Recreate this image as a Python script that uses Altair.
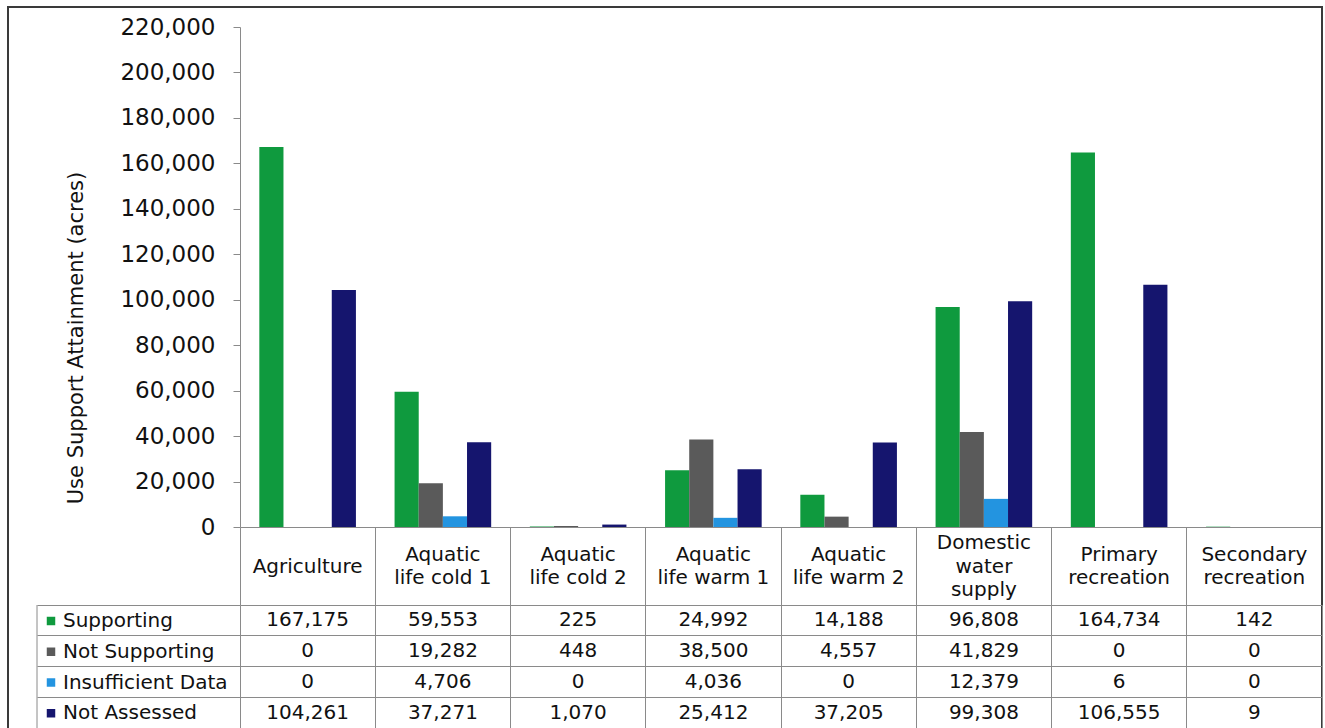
import altair as alt
import pandas as pd

# Designated uses (header text, line breaks as printed) and attainment classes
categories = [
    "Agriculture",
    "Aquatic\nlife cold 1",
    "Aquatic\nlife cold 2",
    "Aquatic\nlife warm 1",
    "Aquatic\nlife warm 2",
    "Domestic\nwater\nsupply",
    "Primary\nrecreation",
    "Secondary\nrecreation",
]
series = ["Supporting", "Not Supporting", "Insufficient Data", "Not Assessed"]

# Acres per designated use
supporting = [167175, 59553, 225, 24992, 14188, 96808, 164734, 142]
not_supporting = [0, 19282, 448, 38500, 4557, 41829, 0, 0]
insufficient_data = [0, 4706, 0, 4036, 0, 12379, 6, 0]
not_assessed = [104261, 37271, 1070, 25412, 37205, 99308, 106555, 9]

y_ticks = list(range(0, 220001, 20000))
colors = ["#0f9a3e", "#5a5a5a", "#2394e0", "#15156e"]

records = []
for status, values in zip(series, [supporting, not_supporting, insufficient_data, not_assessed]):
    for use, acres in zip(categories, values):
        records.append({"use": use, "status": status, "acres": acres})
df = pd.DataFrame(records)

W = 1082          # plot width (8 table columns)
H = 500           # bar plot height
HEADER = 78       # header row under the bars
TABLE_H = 123     # four data rows
LEGEND_COL = 203  # width of the row-label column
LINE_H = 23.5     # header line height
LINE = "#8a8a8a"
INK = "#111111"
FONT = "DejaVu Sans"

# Header labels are vertically centred in the header row whatever their line count
n_lines = "length(split(datum.value, '\\n'))"
header_padding = {
    "condition": [
        {"test": f"{n_lines} == 2", "value": HEADER / 2 - LINE_H / 2 - HEADER},
        {"test": f"{n_lines} == 3", "value": HEADER / 2 - LINE_H - HEADER},
    ],
    "value": HEADER / 2 - HEADER,
}

use_scale = alt.Scale(type="band", domain=categories, paddingInner=0, paddingOuter=0)

bars = alt.Chart(df).mark_bar().encode(
    x=alt.X(
        "use:N",
        sort=categories,
        scale=use_scale,
        axis=alt.Axis(
            title=None,
            labelAngle=0,
            labelExpr="split(datum.label, '\\n')",
            labelFontSize=20,
            labelColor=INK,
            labelLineHeight=LINE_H,
            labelBaseline="middle",
            labelPadding=header_padding,
            labelLimit=0,
            tickSize=HEADER,
            tickColor=LINE,
            bandPosition=1,
            tickExtra=True,
            domainColor=LINE,
        ),
    ),
    xOffset=alt.XOffset(
        "status:N",
        sort=series,
        scale=alt.Scale(domain=series, paddingInner=0, paddingOuter=0.8),
    ),
    y=alt.Y(
        "acres:Q",
        scale=alt.Scale(domain=[0, 220000], nice=False),
        axis=alt.Axis(
            title="Use Support Attainment (acres)",
            values=y_ticks,
            format=",d",
            grid=False,
            labelFontSize=23,
            labelColor=INK,
            labelPadding=18,
            tickSize=7,
            tickColor=LINE,
            domainColor=LINE,
            titleFontSize=21,
            titleFontWeight="normal",
            titleColor=INK,
            titleAngle=270,
            titleX=-164,
            titleY=310.5,
            titleAlign="center",
            titleBaseline="middle",
        ),
    ),
    color=alt.Color(
        "status:N",
        sort=series,
        scale=alt.Scale(domain=series, range=colors),
        legend=alt.Legend(
            title=None,
            orient="none",
            legendX=-199,
            legendY=584,
            padding=0,
            symbolType="square",
            symbolSize=72,
            symbolStrokeWidth=0,
            symbolOpacity=1,
            labelFontSize=20,
            labelColor=INK,
            labelOffset=2,
            labelLimit=0,
            rowPadding=10.75,
        ),
    ),
)

# Outer frame around the whole figure
frame = alt.Chart(alt.Data(values=[{}])).mark_rect(
    fill="transparent", stroke="#3a3a3a", strokeWidth=2
).encode(
    x=alt.value(-232),
    x2=alt.value(W),
    y=alt.value(-20),
    y2=alt.value(H + HEADER + TABLE_H + 20),
)

top = alt.layer(bars, frame).properties(width=W, height=H)

# Data table under the bars
cells = alt.Chart(df).mark_text(fontSize=20, color=INK, baseline="middle").encode(
    x=alt.X(
        "use:N",
        sort=categories,
        scale=use_scale,
        axis=alt.Axis(
            title=None,
            labels=False,
            ticks=False,
            domain=False,
            grid=True,
            gridColor=LINE,
            bandPosition=1,
            tickExtra=True,
        ),
    ),
    y=alt.Y(
        "status:N",
        sort=series,
        scale=alt.Scale(type="band", domain=series, paddingInner=0, paddingOuter=0),
        axis=alt.Axis(
            title=None,
            labels=False,
            domain=False,
            grid=True,
            gridColor=LINE,
            ticks=True,
            tickSize=LEGEND_COL,
            tickColor=LINE,
            bandPosition=1,
            tickExtra=True,
        ),
    ),
    text=alt.Text("acres:Q", format=","),
)

left_edge = alt.Chart(alt.Data(values=[{}])).mark_rule(color=LINE).encode(
    x=alt.value(-LEGEND_COL), y=alt.value(0), y2=alt.value(TABLE_H)
)

table = alt.layer(cells, left_edge).properties(width=W, height=TABLE_H)

chart = (
    alt.vconcat(top, table, spacing=HEADER, bounds="flush")
    .resolve_scale(x="independent", color="independent")
    .properties(padding={"left": 7, "top": 6, "right": 0, "bottom": 0})
    .configure(font=FONT)
    .configure_view(strokeWidth=0)
)

chart.save("out.html", embed_options={"renderer": "svg", "actions": False})
